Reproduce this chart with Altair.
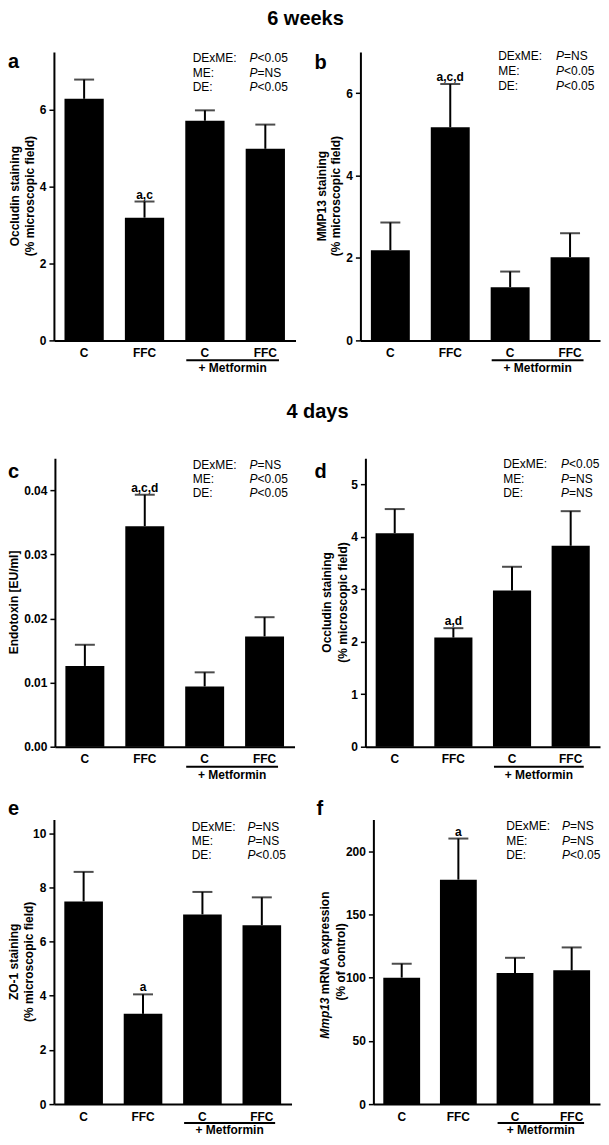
import altair as alt
import pandas as pd

groups = ["C", "FFC", "C+M", "FFC+M"]
stat_labels = ["DExME:", "ME:", "DE:"]

a_mean = [6.28, 3.19, 5.71, 4.98]
a_sem = [0.50, 0.42, 0.27, 0.63]
a_sig = ["", "a,c", "", ""]
a_p = ["<0.05", "=NS", "<0.05"]
a_title = ["Occludin staining", "(% microscopic field)"]
a_ticks = [0, 2, 4, 6]

b_mean = [2.19, 5.17, 1.29, 2.02]
b_sem = [0.67, 1.05, 0.38, 0.58]
b_sig = ["", "a,c,d", "", ""]
b_p = ["=NS", "<0.05", "<0.05"]
b_title = ["MMP13 staining", "(% microscopic field)"]
b_ticks = [0, 2, 4, 6]

c_mean = [0.0126, 0.0344, 0.0094, 0.0172]
c_sem = [0.0033, 0.0049, 0.0022, 0.0030]
c_sig = ["", "a,c,d", "", ""]
c_p = ["=NS", "<0.05", "<0.05"]
c_title = ["Endotoxin [EU/ml]"]
c_ticks = [0, 0.01, 0.02, 0.03, 0.04]

d_mean = [4.07, 2.08, 2.98, 3.83]
d_sem = [0.46, 0.18, 0.45, 0.66]
d_sig = ["", "a,d", "", ""]
d_p = ["<0.05", "=NS", "=NS"]
d_title = ["Occludin staining", "(% microscopic field)"]
d_ticks = [0, 1, 2, 3, 4, 5]

e_mean = [7.48, 3.33, 7.00, 6.60]
e_sem = [1.09, 0.72, 0.83, 1.03]
e_sig = ["", "a", "", ""]
e_p = ["=NS", "=NS", "<0.05"]
e_title = ["ZO-1 staining", "(% microscopic field)"]
e_ticks = [0, 2, 4, 6, 8, 10]

f_mean = [100.0, 177.5, 103.6, 105.9]
f_sem = [11.0, 32.5, 12.1, 18.0]
f_sig = ["", "a", "", ""]
f_p = ["=NS", "=NS", "<0.05"]
f_title_italic = "Mmp13"
f_title_rest = "mRNA expression"
f_title2 = "(% of control)"
f_ticks = [0, 50, 100, 150, 200]

FONT = "Liberation Sans"
one = pd.DataFrame({"k": [0]})


def ptext(txt, x, y, **kw):
    return alt.Chart(one).mark_text(font=FONT, color="black", **kw).encode(
        x=alt.value(x), y=alt.value(y), text=alt.value(txt))


def panel(mean, sem, sig, pvals, ymax, ticks, fmt, W, ox, pw, H, T, letter, lx, ly,
          sx, px, sy, titles=None, tx=None, extra=None, uoff=20, moff=28):
    # ox: x position of the y axis inside the cell, pw: plot width from the axis
    df = pd.DataFrame({"group": groups, "mean": mean, "sem": sem, "sig": sig})
    base = alt.Chart(df).transform_calculate(upper="datum.mean + datum.sem")
    xr = [ox, ox + pw]
    xax = alt.Axis(title=None, labelExpr="replace(datum.label, '+M', '')")
    xs = alt.Scale(domain=groups, range=xr, paddingInner=0.35, paddingOuter=0.175)
    ys = alt.Scale(domain=[0, ymax], range=[H, T], nice=False, zero=True)
    yax = alt.Axis(title=None, values=ticks, format=fmt, offset=-ox)
    X = alt.X("group:N", scale=xs, axis=xax)
    bars = base.mark_bar(color="black").encode(
        x=X, y=alt.Y("mean:Q", scale=ys, axis=yax))
    err = base.mark_rule(color="black", strokeWidth=2).encode(
        x=X, y=alt.Y("mean:Q", scale=ys, axis=yax), y2="upper:Q")
    cap = base.mark_tick(color="black", thickness=2, size=20, orient="horizontal").encode(
        x=X, y=alt.Y("upper:Q", scale=ys, axis=yax))
    sigt = base.mark_text(font=FONT, fontSize=12, fontWeight="bold", color="black",
                          baseline="alphabetic", dy=-3).encode(
        x=X, y=alt.Y("upper:Q", scale=ys, axis=yax), text="sig:N")
    layers = [bars, err, cap, sigt]
    for i in range(3):
        layers.append(ptext(stat_labels[i], ox + sx, T + sy[i], fontSize=12,
                            align="left", baseline="middle"))
        layers.append(ptext("P", ox + px, T + sy[i], fontSize=12, fontStyle="italic",
                            align="left", baseline="middle"))
        layers.append(ptext(pvals[i], ox + px + 8, T + sy[i], fontSize=12,
                            align="left", baseline="middle"))
    layers.append(ptext(letter, lx, T + ly, fontSize=20, fontWeight="bold",
                        align="left", baseline="alphabetic"))
    yc = T + (H - T) / 2
    if titles:
        for t, xx in zip(titles, tx):
            layers.append(ptext(t, ox + xx, yc, fontSize=12, fontWeight="bold",
                                angle=270, align="center", baseline="middle"))
    step = pw / 4
    bw = step * 0.65
    x1 = ox + step * 2.175 + 1
    x2 = ox + step * 3.175 + bw - 6
    layers.append(alt.Chart(one).mark_rule(color="black", strokeWidth=2).encode(
        x=alt.value(x1), x2=alt.value(x2), y=alt.value(H + uoff)))
    layers.append(ptext("+ Metformin", (x1 + x2) / 2, H + moff, fontSize=12,
                        fontWeight="bold", align="center", baseline="middle"))
    if extra:
        layers.extend(extra(ox, yc))
    return alt.layer(*layers).properties(width=W, height=H)


W1 = 297
W2 = 240

pa = panel(a_mean, a_sem, a_sig, a_p, 7.5, a_ticks, "d", W1, 0, 242, 289, 0,
           "a", -46, 16, 139, 196, [6, 21, 35], a_title, [-39, -24],
           extra=lambda ox, yc: [ptext("6 weeks", 252, -43, fontSize=20,
                                       fontWeight="bold", align="center",
                                       baseline="top")])
pb = panel(b_mean, b_sem, b_sig, b_p, 7, b_ticks, "d", W2, 0, 240, 289, 0,
           "b", -46, 17, 138, 196, [4, 19, 34], b_title, [-38, -24])
pc = panel(c_mean, c_sem, c_sig, c_p, 0.045, c_ticks, ".2f", W1, 1, 240, 334, 45,
           "c", -46, 20, 138, 195, [7, 21, 35], c_title, [-41],
           extra=lambda ox, yc: [ptext("4 days", 264, 5, fontSize=20,
                                       fontWeight="bold", align="center",
                                       baseline="alphabetic")])
pd_ = panel(d_mean, d_sem, d_sig, d_p, 5.5, d_ticks, "d", W2, 5, 235, 334, 45,
            "d", -46, 20, 138, 196, [6, 21, 35], d_title, [-38, -22])
pe = panel(e_mean, e_sem, e_sig, e_p, 10.5, e_ticks, "d", W1, 0, 238, 285, 0,
           "e", -46, -5, 138, 194, [7, 21, 35], e_title, [-40, -25],
           uoff=19, moff=26)


def f_titles(ox, yc):
    start = yc + 77
    return [
        ptext(f_title_italic, ox - 48, start, fontSize=12, fontWeight="bold",
              fontStyle="italic", angle=270, align="left", baseline="middle"),
        ptext(f_title_rest, ox - 48, start - 44.6, fontSize=12, fontWeight="bold",
              angle=270, align="left", baseline="middle"),
        ptext(f_title2, ox - 32, yc, fontSize=12, fontWeight="bold", angle=270,
              align="center", baseline="middle"),
    ]


pf = panel(f_mean, f_sem, f_sig, f_p, 225, f_ticks, "d", W2, 13, 227, 285, 0,
           "f", -44, -5, 133, 189, [6, 21, 35], extra=f_titles, uoff=19, moff=26)

chart = alt.concat(pa, pb, pc, pd_, pe, pf, columns=2,
                   spacing={"row": 73, "column": 10},
                   bounds="flush").properties(
    padding=0
).configure_view(stroke=None).configure_axis(
    grid=False, domainColor="black", domainWidth=2, tickColor="black",
    tickWidth=1.5, labelColor="black", labelFont=FONT, labelFontSize=12,
    labelFontWeight="bold"
).configure_axisX(
    ticks=False, tickSize=0, labelPadding=7, labelAngle=0
).configure_axisY(
    tickSize=5, labelPadding=3
)

chart.save("out.html", embed_options={"renderer": "svg", "actions": False})
